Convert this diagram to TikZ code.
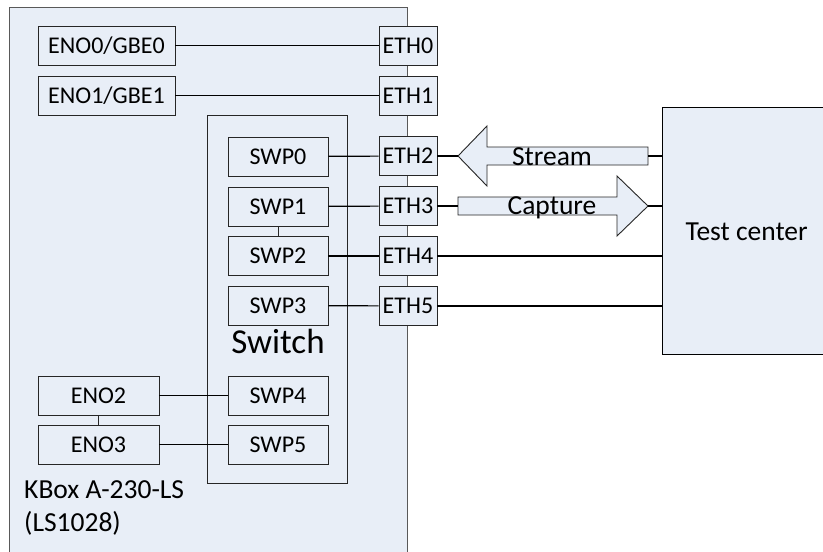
\documentclass[tikz,border=0pt]{standalone}
\usepackage{fontspec}
\setmainfont{Carlito}
\definecolor{bgc}{RGB}{232,238,247}
\begin{document}
\begin{tikzpicture}[x=1pt,y=-1pt,
  box/.style={draw=black!85, line width=0.9pt, fill=bgc, minimum height=39pt, inner sep=0pt,
    font=\fontsize{24}{28}\selectfont, text height=15.5pt, text depth=0pt},
  ethbox/.style={box, minimum width=58pt},
  swpbox/.style={box, minimum width=100pt},
  wire/.style={line width=1.2pt, black},
  thinwire/.style={line width=0.9pt, black!85},
  big/.style={inner sep=0pt, font=\fontsize{27.5}{33}\selectfont},
  fatarrow/.style={draw=black!85, line width=0.9pt, fill=bgc, line join=miter}]
\useasboundingbox (0,0) rectangle (823,552);
\fill[white] (0,0) rectangle (823,552);
% main box
\node[draw=black!65, line width=1pt, fill=bgc, anchor=north west, minimum width=398pt, minimum height=570pt, inner sep=0pt] (kbox) at (9,7) {};
% switch box
\node[draw=black!85, line width=0.9pt, fill=bgc, anchor=north west, minimum width=140pt, minimum height=368pt, inner sep=0pt] (sw) at (207,115) {};
\node[inner sep=0pt, anchor=base, font=\fontsize{35}{40}\selectfont] (swlabel) at (278,353) {Switch};
% test center
\node[draw=black, line width=1.3pt, fill=bgc, anchor=north west, minimum width=168pt, minimum height=247pt, inner sep=0pt,
  font=\fontsize{27.5}{33}\selectfont, text height=17.7pt, text depth=0pt] (tc) at (662,107) {Test center};
% ENO boxes
\node[box, minimum width=137pt] (eno0) at (106.5,45.5) {ENO0/GBE0};
\node[box, minimum width=137pt] (eno1) at (106.5,95.5) {ENO1/GBE1};
\node[box, minimum width=121pt] (eno2) at (98.5,395.5) {ENO2};
\node[box, minimum width=121pt] (eno3) at (98.5,444.5) {ENO3};
% SWP boxes
\node[swpbox] (swp0) at (278,156.5) {SWP0};
\node[swpbox] (swp1) at (278,206.5) {SWP1};
\node[swpbox] (swp2) at (278,256) {SWP2};
\node[swpbox] (swp3) at (278,305.5) {SWP3};
\node[swpbox] (swp4) at (278,395.5) {SWP4};
\node[swpbox] (swp5) at (278,444.5) {SWP5};
% ETH boxes
\node[ethbox] (eth0) at (408,45.5) {ETH0};
\node[ethbox] (eth1) at (408,95.5) {ETH1};
\node[ethbox] (eth2) at (408,156) {ETH2};
\node[ethbox] (eth3) at (408,206) {ETH3};
\node[ethbox] (eth4) at (408,256) {ETH4};
\node[ethbox] (eth5) at (408,306) {ETH5};
% connectors
\draw[wire] (eno0) -- (eth0);
\draw[wire] (eno1) -- (eth1);
\draw[wire] (swp0) -- (eth2);
\draw[wire] (swp1) -- (eth3);
\draw[wire] (swp2) -- (eth4);
\draw[wire] (swp3) -- (eth5);
\draw[thinwire] (swp1) -- (swp2);
\draw[thinwire] (eno2) -- (eno3);
\draw[wire] (eno2) -- (swp4);
\draw[wire] (eno3) -- (swp5);
\draw[wire] (eth4) -- (eth4 -| tc.west);
\draw[wire] (eth5) -- (eth5 -| tc.west);
% Stream arrow
\coordinate (stip) at (458,156);
\coordinate (send) at (648,156);
\draw[fatarrow] (stip) -- (487,126) -- (487,147) -- (648,147) -- (648,165) -- (487,165) -- (487,186) -- cycle;
\node[big, anchor=base] (stream) at (552,165) {Stream};
\draw[wire] (eth2) -- (stip);
\draw[wire] (send) -- (send -| tc.west);
% Capture arrow
\coordinate (cstart) at (458,206);
\coordinate (ctip) at (648,206);
\draw[fatarrow] (458,197) -- (617,197) -- (617,176) -- (ctip) -- (617,236) -- (617,215) -- (458,215) -- cycle;
\node[big, anchor=base] (capture) at (552,214) {Capture};
\draw[wire] (eth3) -- (cstart);
\draw[wire] (ctip) -- (ctip -| tc.west);
% KBox label
\node[big, anchor=base west] (kl1) at (24,498) {KBox A-230-LS};
\node[big, anchor=base west] (kl2) at (24,531) {(LS1028)};
\end{tikzpicture}
\end{document}
